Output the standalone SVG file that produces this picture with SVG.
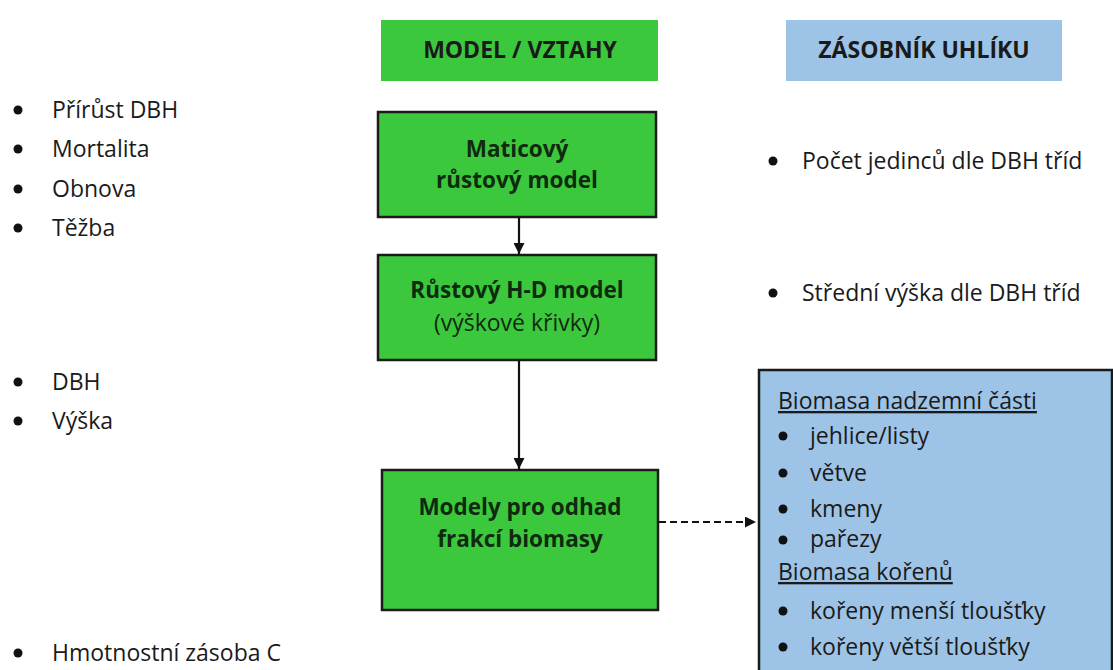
<svg xmlns="http://www.w3.org/2000/svg" width="1113" height="670" viewBox="0 0 1113 670">
<style>
text{font-family:"Open Sans","Liberation Sans",sans-serif;fill:#1a1a1a}
.t{font-size:23px}
.b{font-size:22.5px;font-weight:bold}
.h{font-size:23px;font-weight:bold}
.c{text-anchor:middle}
.in{fill:#102a10}
.g{fill:#3cc83c;stroke:#1a1a1a;stroke-width:2.5}
.gh{fill:#3cc83c}
.bh{fill:#9dc3e6}
.bb{fill:#9dc3e6;stroke:#1a1a1a;stroke-width:2.5}
.dot{fill:#111}
.ln{stroke:#111;stroke-width:2.2;fill:none}
</style>
<defs>
<marker id="ah" viewBox="0 0 10 10" refX="10" refY="5" markerWidth="11" markerHeight="11" markerUnits="userSpaceOnUse" orient="auto">
<path d="M0,0 L10,5 L0,10 z" fill="#111"/>
</marker>
</defs>
<rect width="1113" height="670" fill="#fff"/>

<g id="left-list">
<circle class="dot" cx="18" cy="110" r="4.5"/><text class="t" x="52" y="118">Přírůst DBH</text>
<circle class="dot" cx="18" cy="149" r="4.5"/><text class="t" x="52" y="157">Mortalita</text>
<circle class="dot" cx="18" cy="189" r="4.5"/><text class="t" x="52" y="197">Obnova</text>
<circle class="dot" cx="18" cy="228" r="4.5"/><text class="t" x="52" y="236">Těžba</text>
<circle class="dot" cx="18" cy="382" r="4.5"/><text class="t" x="52" y="390">DBH</text>
<circle class="dot" cx="18" cy="421" r="4.5"/><text class="t" x="52" y="429">Výška</text>
<circle class="dot" cx="18" cy="653" r="4.5"/><text class="t" x="52" y="661">Hmotnostní zásoba C</text>
</g>

<g id="header-model">
<rect class="gh" x="381" y="20" width="277" height="61"/>
<text class="h c" x="520" y="58">MODEL / VZTAHY</text>
</g>

<g id="header-zasobnik">
<rect class="bh" x="786" y="20" width="276" height="61"/>
<text class="h c" x="924" y="58">ZÁSOBNÍK UHLÍKU</text>
</g>

<g id="node-maticovy">
<rect class="g" x="378" y="112" width="278" height="105"/>
<text class="b c in" x="517" y="157">Maticový</text>
<text class="b c in" x="517" y="188">růstový model</text>
</g>

<g id="node-hd">
<rect class="g" x="378" y="255" width="278" height="105"/>
<text class="b c in" x="517" y="298">Růstový H-D model</text>
<text class="t c in" x="517" y="331">(výškové křivky)</text>
</g>

<g id="node-biomasa-model">
<rect class="g" x="382" y="470" width="276" height="140"/>
<text class="b c in" x="520" y="515">Modely pro odhad</text>
<text class="b c in" x="520" y="547">frakcí biomasy</text>
</g>

<g id="right-list">
<circle class="dot" cx="773" cy="161" r="4.5"/><text class="t" x="802" y="169">Počet jedinců dle DBH tříd</text>
<circle class="dot" cx="773" cy="293" r="4.5"/><text class="t" x="802" y="301">Střední výška dle DBH tříd</text>
</g>

<g id="node-biomasa">
<rect class="bb" x="759" y="370" width="353" height="310"/>
<text class="t" x="778" y="409" text-decoration="underline">Biomasa nadzemní části</text>
<circle class="dot" cx="783" cy="436" r="4.5"/><text class="t" x="810" y="444">jehlice/listy</text>
<circle class="dot" cx="783" cy="473" r="4.5"/><text class="t" x="810" y="481">větve</text>
<circle class="dot" cx="783" cy="509" r="4.5"/><text class="t" x="810" y="517">kmeny</text>
<circle class="dot" cx="783" cy="540" r="4.5"/><text class="t" x="810" y="547">pařezy</text>
<text class="t" x="778" y="580" text-decoration="underline">Biomasa kořenů</text>
<circle class="dot" cx="783" cy="611" r="4.5"/><text class="t" x="810" y="619">kořeny menší tloušťky</text>
<circle class="dot" cx="783" cy="647" r="4.5"/><text class="t" x="810" y="655">kořeny větší tloušťky</text>
</g>

<g id="connectors">
<line class="ln" x1="519" y1="218" x2="519" y2="254" marker-end="url(#ah)"/>
<line class="ln" x1="519" y1="361" x2="519" y2="469" marker-end="url(#ah)"/>
<line class="ln" x1="659" y1="522" x2="756" y2="522" stroke-dasharray="7,4" marker-end="url(#ah)"/>
</g>
</svg>
